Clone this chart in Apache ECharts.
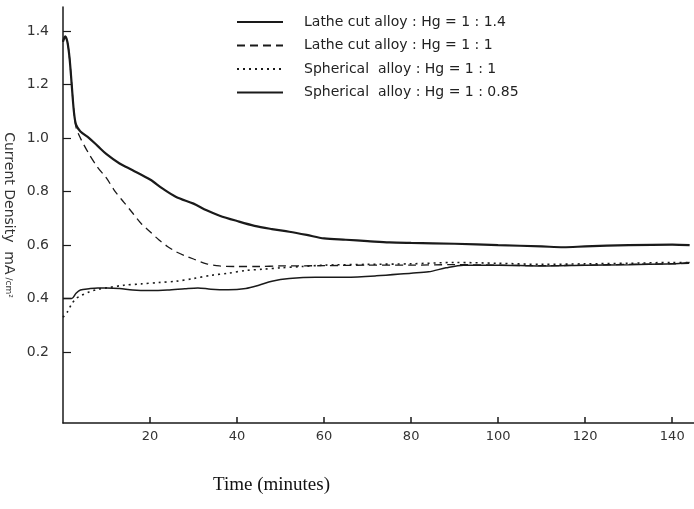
<!DOCTYPE html>
<html><head><meta charset="utf-8">
<script src="https://cdn.jsdelivr.net/npm/echarts@6/dist/echarts.min.js"></script>
<style>html,body{margin:0;padding:0;background:#fff}#c{width:694px;height:509px}</style>
</head><body><div id="c"></div>
<script>
var seriesNames = [
  'Lathe cut alloy : Hg = 1 : 1.4',
  'Lathe cut alloy : Hg = 1 : 1',
  'Spherical  alloy : Hg = 1 : 1',
  'Spherical  alloy : Hg = 1 : 0.85'
];
var xTicks = [20, 40, 60, 80, 100, 120, 140];
var yTicks = [0.2, 0.4, 0.6, 0.8, 1.0, 1.2, 1.4];

var latheHigh = [[0,1.36],[0.5,1.38],[1,1.36],[1.5,1.30],[2,1.20],[2.5,1.10],[3,1.05],[4,1.025],[6,1.0],[8,0.97],[10,0.94],[13,0.905],[16,0.88],[20,0.845],[23,0.81],[26,0.78],[30,0.755],[33,0.73],[36,0.71],[40,0.69],[44,0.672],[48,0.66],[52,0.65],[56,0.638],[60,0.625],[65,0.62],[70,0.615],[75,0.61],[80,0.608],[90,0.605],[100,0.6],[110,0.595],[115,0.592],[120,0.595],[130,0.6],[140,0.602],[144,0.6]];
var latheEq = [[0,1.36],[0.5,1.38],[1,1.36],[1.5,1.30],[2,1.20],[2.5,1.10],[3,1.04],[4,1.0],[6,0.94],[8,0.89],[10,0.85],[12,0.80],[14,0.76],[16,0.72],[18,0.68],[20,0.65],[22,0.62],[24,0.595],[26,0.575],[28,0.56],[30,0.548],[33,0.53],[36,0.522],[40,0.52],[45,0.52],[50,0.522],[60,0.523],[70,0.525],[80,0.525],[90,0.527],[100,0.525],[110,0.523],[120,0.525],[130,0.528],[140,0.53],[144,0.532]];
var sphEq = [[0,0.33],[1,0.35],[2,0.38],[3,0.40],[4,0.41],[6,0.425],[8,0.435],[10,0.44],[14,0.45],[18,0.455],[22,0.46],[26,0.465],[30,0.475],[34,0.487],[38,0.495],[42,0.505],[46,0.51],[50,0.515],[55,0.52],[60,0.525],[70,0.528],[80,0.53],[90,0.535],[100,0.532],[110,0.528],[120,0.53],[130,0.532],[140,0.535],[144,0.535]];
var sphLow = [[0,0.40],[1,0.40],[2,0.40],[3,0.42],[4,0.432],[6,0.437],[8,0.44],[10,0.44],[13,0.438],[16,0.432],[20,0.43],[24,0.432],[28,0.437],[31,0.44],[34,0.435],[38,0.433],[42,0.438],[45,0.45],[48,0.465],[52,0.475],[58,0.48],[65,0.48],[72,0.485],[80,0.495],[84,0.5],[88,0.515],[92,0.525],[100,0.525],[110,0.522],[120,0.525],[130,0.527],[140,0.53],[144,0.535]];

var ink = '#1a1a1a';
var chart = echarts.init(document.getElementById('c'), null, {renderer:'canvas'});
chart.setOption({
  backgroundColor:'#fff',
  animation:false,
  grid:{left:63, right:0, top:7, bottom:86, containLabel:false, outerBoundsMode:'none'},
  legend:{
    orient:'vertical', left:236, top:15, itemWidth:46, itemHeight:12, itemGap:9.5,
    padding:0,
    itemStyle:{opacity:0},
    textStyle:{fontSize:14, color:'#222', fontFamily:'DejaVu Sans', padding:[0,0,0,16]},
    data:seriesNames
  },
  xAxis:{
    type:'value', min:0, max:145,
    axisLine:{onZero:false, lineStyle:{color:ink, width:1.5}},
    axisTick:{inside:true, length:6, lineStyle:{color:ink, width:1.5}, customValues:xTicks},
    axisLabel:{color:'#333', fontSize:13, margin:7, fontFamily:'DejaVu Sans', customValues:xTicks},
    splitLine:{show:false}
  },
  yAxis:{
    type:'value', min:-0.065, max:1.49,
    name:'{a|Current Density  mA}{b| /cm²}',
    nameLocation:'middle', nameRotate:-90, nameGap:45,
    nameTextStyle:{rich:{a:{fontSize:14, color:'#333', fontFamily:'DejaVu Sans'}, b:{fontSize:9, color:'#333', fontFamily:'DejaVu Sans'}}},
    axisLine:{lineStyle:{color:ink, width:1.5}},
    axisTick:{inside:true, length:8, lineStyle:{color:ink, width:1.2}, customValues:yTicks},
    axisLabel:{color:'#333', fontSize:14, margin:14, fontFamily:'DejaVu Sans', customValues:yTicks,
      formatter:function(v){return v.toFixed(1);}},
    splitLine:{show:false}
  },
  graphic:[{type:'text', left:213, top:476, style:{text:'Time (minutes)', fontSize:19, fontFamily:'Liberation Serif', fill:'#111'}}],
  series:[
    {name:seriesNames[0], type:'line', data:latheHigh, symbol:'none', smooth:0.3, lineStyle:{color:ink, width:2.2}, itemStyle:{color:ink}},
    {name:seriesNames[1], type:'line', data:latheEq, symbol:'none', smooth:0.3, lineStyle:{color:ink, width:1.3, type:[8,5]}, itemStyle:{color:ink}},
    {name:seriesNames[2], type:'line', data:sphEq, symbol:'none', smooth:0.3, lineStyle:{color:ink, width:1.6, type:[2,4]}, itemStyle:{color:ink}},
    {name:seriesNames[3], type:'line', data:sphLow, symbol:'none', smooth:0.3, lineStyle:{color:ink, width:1.5}, itemStyle:{color:ink}}
  ]
});
</script></body></html>
